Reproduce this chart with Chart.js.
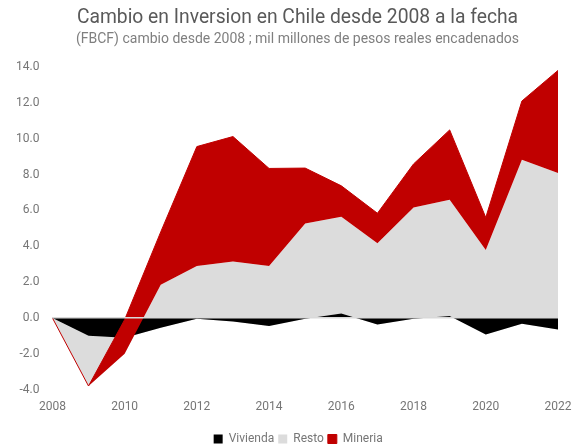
<!DOCTYPE html>
<html>
<head>
<meta charset="utf-8">
<script src="https://cdn.jsdelivr.net/npm/chart.js@4.4.1/dist/chart.umd.min.js"></script>
<style>
  body { margin: 0; background: #fff; }
  #wrap { position: relative; width: 584px; height: 448px; }
  #wrap canvas { position: absolute; left: 0; top: 0; }
  .hdr { position: absolute; left: 11px; width: 573px; text-align: center; font-family: Roboto, sans-serif; white-space: nowrap; }
  #ttl { top: 6px; font-size: 19.3px; line-height: 22px; color: #595959; }
  #sub { top: 30px; font-size: 14px; line-height: 17px; color: #7f7f7f; }
</style>
</head>
<body>
<div id="wrap">
	<canvas id="mycanvas" width="584" height="448"></canvas>
	<div class="hdr" id="ttl">Cambio en Inversion en Chile desde 2008 a la fecha</div>
	<div class="hdr" id="sub">(FBCF) cambio desde 2008 ; mil millones de pesos reales encadenados</div>
</div>
<script>
// years and changes since 2008 (mil millones de pesos)
var years = ['2008','2009','2010','2011','2012','2013','2014','2015','2016','2017','2018','2019','2020','2021','2022'];
var vivienda = [0, -1.0, -1.1, -0.55, -0.05, -0.2, -0.45, -0.05, 0.25, -0.37, -0.05, 0.1, -0.93, -0.33, -0.65];
var resto    = [0, -2.8, -0.9, 2.4, 2.95, 3.35, 3.35, 5.32, 5.39, 4.53, 6.21, 6.49, 4.72, 9.16, 8.73];
var mineria  = [0, 0, 1.9, 2.95, 6.66, 6.97, 5.44, 3.09, 1.73, 1.68, 2.43, 3.9, 1.81, 3.27, 5.73];
var yTicks = [-4, -2, 0, 2, 4, 6, 8, 10, 12, 14];

// excel style stacking: every series sits on the running total, sign ignored
var lvl1 = vivienda.slice();
var lvl2 = lvl1.map(function(v, i){ return v + resto[i]; });
var lvl3 = lvl2.map(function(v, i){ return v + mineria[i]; });

var grey = '#767676';

var chartdata = {
	labels: years,
	datasets: [
		{
			label: 'Vivienda',
			data: lvl1,
			backgroundColor: '#000000',
			borderColor: '#000000',
			borderWidth: 0,
			fill: 'origin',
			order: 1
		},
		{
			label: 'Resto',
			data: lvl2,
			backgroundColor: '#dcdcdc',
			borderColor: '#dcdcdc',
			borderWidth: 0,
			fill: 0,
			order: 2
		},
		{
			label: 'Mineria',
			data: lvl3,
			backgroundColor: '#c00000',
			borderColor: '#c00000',
			borderWidth: 1,
			fill: 1,
			order: 0
		}
	]
};

// nudge the legend a bit left, like in the original
var legendShift = {
	id: 'legendShift',
	afterLayout: function(chart){
		if (chart.legend) {
			chart.legend.left -= 7;
			chart.legend.right -= 7;
		}
	}
};

var ctx = document.getElementById('mycanvas');
var areaGraph = new Chart(ctx, {
	type: 'line',
	data: chartdata,
	plugins: [legendShift],
	options: {
		responsive: false,
		animation: false,
		layout: { padding: { left: 3, right: 26, top: 67, bottom: -7 } },
		elements: {
			line: { tension: 0 },
			point: { radius: 0 }
		},
		scales: {
			x: {
				grid: { display: false },
				border: { display: false },
				afterFit: function(scale){ scale.height += 13; },
				ticks: {
					autoSkip: false,
					maxRotation: 0,
					padding: 2,
					color: grey,
					font: { family: 'Roboto', size: 12 },
					callback: function(val, i){ return i % 2 === 0 ? years[i] : ''; }
				}
			},
			y: {
				min: -4,
				max: 14,
				afterBuildTicks: function(axis){
					axis.ticks = yTicks.map(function(v){ return { value: v }; });
				},
				border: { display: false },
				grid: {
					z: 1,
					drawTicks: false,
					lineWidth: 1.5,
					color: function(c){ return c.tick && c.tick.value === 0 ? '#d9d9d9' : 'rgba(0,0,0,0)'; }
				},
				ticks: {
					padding: 13,
					color: grey,
					font: { family: 'Roboto', size: 12 },
					callback: function(v){ return Number(v).toFixed(1); }
				}
			}
		},
		plugins: {
			title: { display: false },
			legend: {
				position: 'bottom',
				fullSize: false,
				labels: {
					boxWidth: 9,
					boxHeight: 9,
					padding: 4,
					color: grey,
					font: { family: 'Roboto', size: 12 },
					sort: function(a, b){ return a.datasetIndex - b.datasetIndex; }
				}
			},
			tooltip: { enabled: false }
		}
	}
});
</script>
</body>
</html>
